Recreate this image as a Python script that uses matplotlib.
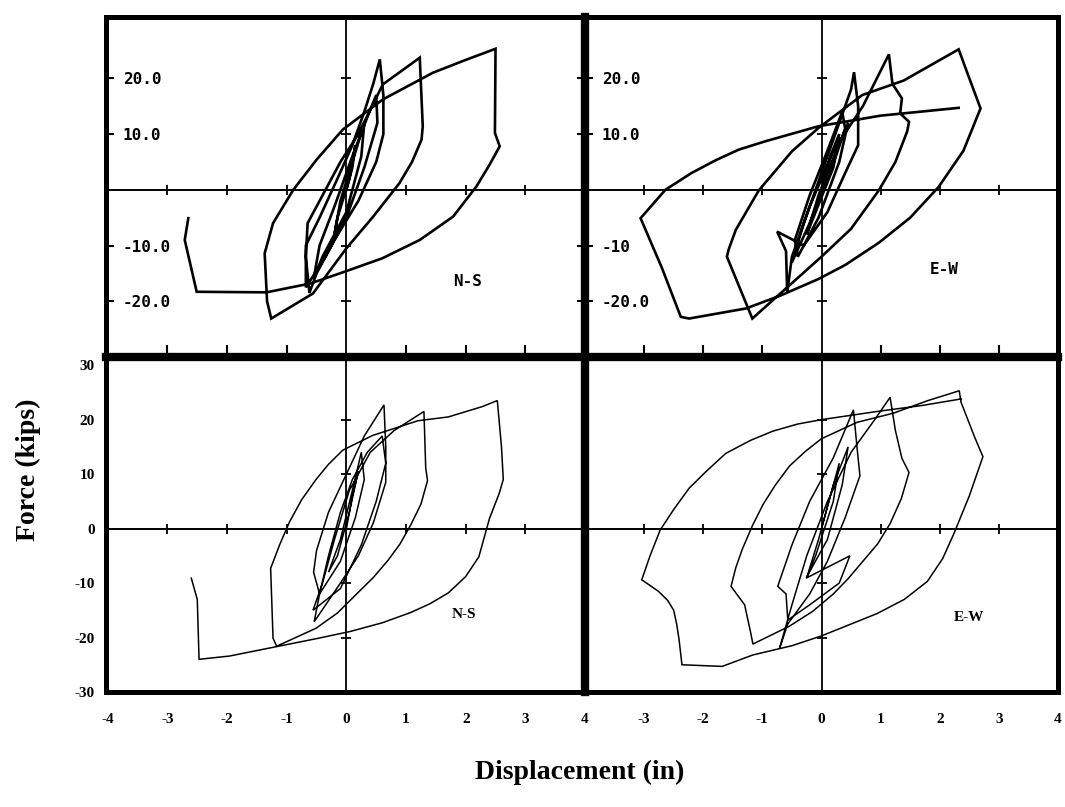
import matplotlib.pyplot as plt
import numpy as np

## hysteresis traces (displacement in, force kips)
ns_top = [(0, 0), (0.1, 4), (0.15, 8), (0.05, 2), (-0.15, -5), (-0.2, -8), (-0.1, -2), (0.1, 5),
          (0.3, 12), (0.25, 6), (0.0, -4), (-0.3, -10), (-0.4, -12),
          (-0.55, -16), (-0.45, -10), (-0.2, -3), (0.1, 6), (0.35, 13), (0.5, 17), (0.52, 12),
          (0.3, 4), (0.0, -5), (-0.35, -12), (-0.68, -17.5), (-0.68, -10),
          (-0.45, -5), (-0.15, 2), (0.1, 8), (0.3, 14), (0.45, 19), (0.56, 23.4), (0.62, 17),
          (0.62, 10), (0.5, 5), (0.2, -2), (-0.2, -9), (-0.5, -15), (-0.62, -18.5),
          (-0.68, -12), (-0.65, -6), (-0.4, -1), (-0.1, 5), (0.2, 10), (0.61, 18.9), (1.23, 23.7),
          (1.28, 11.4), (1.26, 9.0), (1.1, 5), (0.89, 1.2), (0.45, -4.8), (0.0, -10.5),
          (-0.56, -18.6), (-1.26, -23.1),
          (-1.33, -20), (-1.37, -11.4), (-1.23, -6), (-0.89, 0), (-0.5, 5.4), (-0.06, 10.8),
          (0.61, 16.2), (1.45, 21), (2.0, 23.3), (2.5, 25.3), (2.49, 10.2), (2.57, 7.8), (2.4, 4.5),
          (2.18, 0.6), (1.79, -4.8), (1.23, -9.0), (0.6, -12.3), (-0.03, -14.7), (-0.6, -16.8),
          (-1.34, -18.4), (-2.51, -18.3), (-2.71, -9.0), (-2.65, -5.1)]

ew_top = [(0, 0), (0.15, 6), (0.3, 10), (0.2, 4), (-0.1, -4), (-0.25, -8), (-0.05, -1), (0.25, 7),
          (0.45, 12), (0.3, 5), (-0.05, -5), (-0.4, -12),
          (-0.45, -9), (-0.2, -1), (0.1, 7), (0.35, 14), (0.4, 11), (0.15, 3), (-0.2, -6),
          (-0.5, -13), (-0.3, -6), (0.0, 3), (0.3, 12), (0.5, 18), (0.55, 21.1), (0.62, 15),
          (0.62, 8), (0.4, 3), (0.1, -4), (-0.3, -10), (-0.75, -7.5), (-0.6, -11), (-0.58, -18.4),
          (-0.5, -12), (-0.2, -3), (0.2, 7), (0.7, 15), (1.14, 24.3), (1.2, 19), (1.36, 16.4),
          (1.33, 13.7), (1.48, 12.2), (1.45, 10.5), (1.25, 5), (0.97, -0.1), (0.5, -7), (0.0, -12),
          (-0.58, -17.5), (-1.17, -23.1),
          (-1.6, -12), (-1.57, -10.7), (-1.45, -7.2), (-1.06, -0.1), (-0.5, 6.9), (-0.05, 11.1),
          (0.69, 17), (1.39, 19.6), (2.32, 25.2), (2.5, 20), (2.69, 14.6), (2.4, 7), (1.98, 0.5),
          (1.5, -5), (0.97, -9.5), (0.4, -13.5), (-0.05, -16), (-0.7, -19), (-1.28, -21.3),
          (-2.24, -23.1), (-2.38, -22.8), (-2.7, -14), (-3.06, -5.1), (-2.64, 0), (-2.2, 3),
          (-1.79, 5.3), (-1.4, 7.2), (-0.95, 8.7), (-0.05, 11.4), (1.0, 13.3), (2.32, 14.7)]

ns_bot = [(0, 0), (0.1, 6), (0.2, 10.5), (0.05, 3), (-0.15, -5), (-0.3, -8), (-0.1, -2), (0.1, 7),
          (0.25, 14), (0.3, 9), (0.15, 2), (-0.1, -6), (-0.45, -12),
          (-0.55, -8), (-0.5, -4), (-0.3, 3), (0.0, 10), (0.3, 17), (0.63, 22.7), (0.66, 15),
          (0.66, 8.5), (0.45, 1), (0.2, -5), (-0.1, -10), (-0.54, -17.1),
          (-0.45, -12), (-0.3, -5), (-0.1, 3), (0.1, 9), (0.35, 14), (0.6, 17), (0.66, 12),
          (0.5, 5), (0.25, -3), (-0.1, -11), (-0.56, -15),
          (-0.4, -10), (-0.2, -2), (0.05, 7), (0.4, 14), (0.8, 18), (1.3, 21.5), (1.33, 11.1),
          (1.36, 8.8), (1.25, 4.5), (1.08, 0.7), (0.9, -2.8), (0.7, -5.8), (0.45, -9), (0.19, -11.8),
          (-0.15, -15.5), (-0.51, -18.3), (-1.17, -21.6),
          (-1.23, -20.1), (-1.27, -7.3), (-1.12, -3), (-0.95, 1.3), (-0.75, 5.3), (-0.51, 9),
          (-0.3, 11.8), (-0.06, 14.4), (0.44, 17.1), (1.2, 19.8), (1.71, 20.5), (2.28, 22.4),
          (2.53, 23.5), (2.6, 15), (2.63, 9), (2.56, 6.4), (2.4, 1.9), (2.22, -5.2), (2.0, -8.8),
          (1.71, -11.8), (1.4, -13.8), (1.08, -15.4), (0.6, -17.3), (0.06, -18.9), (-0.5, -20.2),
          (-1.14, -21.6), (-1.96, -23.4), (-2.47, -24), (-2.5, -13), (-2.6, -9.1)]

ew_bot = [(0, 0), (0.15, 6), (0.3, 12), (0.2, 5), (-0.1, -5), (-0.25, -9), (-0.05, -2), (0.2, 8),
          (0.45, 15), (0.35, 8), (0.1, -2), (-0.26, -9.1), (0.48, -5), (0.3, -10), (-0.2, -14),
          (-0.57, -16.8),
          (-0.6, -12), (-0.74, -10.6), (-0.5, -3), (-0.2, 5), (0.2, 13), (0.54, 21.8), (0.6, 15),
          (0.65, 9.7), (0.4, 2), (0.1, -6), (-0.2, -12), (-0.57, -17.5), (-0.71, -22),
          (-0.5, -14), (-0.25, -5), (0.1, 5), (0.5, 14), (0.9, 20), (1.16, 24.1), (1.25, 18),
          (1.36, 12.9), (1.48, 10.3), (1.35, 5.5), (1.16, 0.9), (0.95, -2.8), (0.7, -6),
          (0.45, -9.2), (0.2, -12), (-0.15, -15.2), (-0.54, -17.9), (-1.16, -21.2),
          (-1.2, -19), (-1.3, -14), (-1.53, -10.6), (-1.45, -7.2), (-1.34, -3.8), (-1.17, 0.5),
          (-0.99, 4.4), (-0.78, 8), (-0.54, 11.5), (-0.27, 14.2), (0, 16.5), (0.6, 19.5),
          (1.22, 21.2), (1.8, 23.5), (2.33, 25.3), (2.36, 23.2), (2.59, 16.8), (2.73, 13.2),
          (2.5, 6), (2.24, -0.9), (2.05, -5.5), (1.79, -9.7), (1.4, -13), (0.94, -15.6),
          (0, -19.7), (-0.5, -21.5), (-1.16, -23.2), (-1.68, -25.3), (-2.36, -25), (-2.41, -20.3),
          (-2.45, -17.5), (-2.5, -15), (-2.6, -13.2), (-2.76, -11.5), (-3.04, -9.4), (-2.9, -5),
          (-2.73, -0.3), (-2.5, 3.5), (-2.24, 7.4), (-1.95, 10.5), (-1.62, 13.8), (-1.2, 16.2),
          (-0.82, 17.9), (-0.4, 19.2), (0, 20), (0.94, 21.5), (1.7, 22.6), (2.36, 23.8)]

x_ticks = [-3, -2, -1, 1, 2, 3]
y_ticks = [-20, -10, 10, 20]
top_left_labels = ['-20.0', '-10.0', '10.0', '20.0']
top_right_labels = ['-20.0', '-10', '10.0', '20.0']
bot_y_ticks = [-30, -20, -10, 0, 10, 20, 30]
bot_x_left = [-4, -3, -2, -1, 0, 1, 2, 3, 4]
bot_x_right = [-3, -2, -1, 0, 1, 2, 3, 4]

mono = 'DejaVu Sans Mono'
serif = 'Liberation Serif'

fig = plt.figure(figsize=(10.65, 8.07), dpi=100)
W, H = 1065.0, 807.0
L, M, R = 106 / W, 585 / W, 1058 / W
T, C, B = 1 - 17 / H, 1 - 357 / H, 1 - 692 / H

ax_tl = fig.add_axes([L, C, M - L, T - C])
ax_tr = fig.add_axes([M, C, R - M, T - C])
ax_bl = fig.add_axes([L, B, M - L, C - B])
ax_br = fig.add_axes([M, B, R - M, C - B])

panels = [(ax_tl, ns_top, 1.9, (-30, 31), (-4.03, 4.0)),
          (ax_tr, ew_top, 1.9, (-30, 31), (-4.0, 4.0)),
          (ax_bl, ns_bot, 1.1, (-30, 31.5), (-4.03, 4.0)),
          (ax_br, ew_bot, 1.1, (-30, 31.5), (-4.0, 4.0))]

for ax, trace, lw, ylim, xlim in panels:
    pts = np.array(trace)
    ax.plot(pts[:, 0], pts[:, 1], color='black', lw=lw, solid_joinstyle='miter')
    ax.axhline(0, color='black', lw=1.4)
    ax.axvline(0, color='black', lw=1.3)
    ## little crossing ticks on the zero lines
    ax.plot(x_ticks, [0] * len(x_ticks), ls='none', marker='|', ms=7, mew=1.3, color='black')
    ax.plot([0] * len(y_ticks), y_ticks, ls='none', marker='_', ms=7, mew=1.3, color='black')
    ax.set_xlim(*xlim)
    ax.set_ylim(*ylim)
    for sp in ax.spines.values():
        sp.set_linewidth(3.6)

## top panels: ticks point inward, labels written inside
for ax, labels in [(ax_tl, top_left_labels), (ax_tr, top_right_labels)]:
    ax.set_xticks(x_ticks)
    ax.tick_params(axis='x', direction='in', length=9, width=1.5, labelbottom=False)
    ax.set_yticks(y_ticks)
    ax.set_yticklabels(labels, fontfamily=mono, fontweight='bold', fontsize=11.5)
    ax.tick_params(axis='y', direction='in', length=6, width=1.5, pad=-12)
    for lab in ax.get_yticklabels():
        lab.set_horizontalalignment('left')
ax_tl.tick_params(axis='y', right=True)

ax_tl.text(2.03, -16.5, 'N-S', fontfamily=mono, fontweight='bold', fontsize=11.5,
           ha='center', va='center')
ax_tr.text(2.08, -14.3, 'E-W', fontfamily=mono, fontweight='bold', fontsize=11.5,
           ha='center', va='center')

## bottom panels: Times-style labels outside
ax_bl.set_yticks(bot_y_ticks)
ax_bl.set_yticklabels([str(v) for v in bot_y_ticks], fontfamily=serif, fontweight='bold', fontsize=11)
ax_bl.tick_params(axis='y', length=0, pad=8)
ax_br.set_yticks([])
for ax, xt in [(ax_bl, bot_x_left), (ax_br, bot_x_right)]:
    ax.set_xticks(xt)
    ax.set_xticklabels([str(v) for v in xt], fontfamily=serif, fontweight='bold', fontsize=11)
    ax.tick_params(axis='x', length=0, pad=15)

ax_bl.text(1.97, -15.8, 'N-S', fontfamily=serif, fontweight='bold', fontsize=11,
           ha='center', va='center')
ax_br.text(2.5, -16.3, 'E-W', fontfamily=serif, fontweight='bold', fontsize=11,
           ha='center', va='center')

## heavy dividers between panels
fig.add_artist(plt.Line2D([M, M], [B, T], transform=fig.transFigure, lw=6, color='black'))
fig.add_artist(plt.Line2D([L, R], [C, C], transform=fig.transFigure, lw=6, color='black'))

fig.text(28 / W, 1 - 470 / H, 'Force (kips)', rotation=90, ha='center', va='center',
         fontfamily=serif, fontweight='bold', fontsize=20)
fig.text(580 / W, 1 - 772 / H, 'Displacement (in)', ha='center', va='center',
         fontfamily=serif, fontweight='bold', fontsize=20)

plt.savefig('out.png', dpi=100)
